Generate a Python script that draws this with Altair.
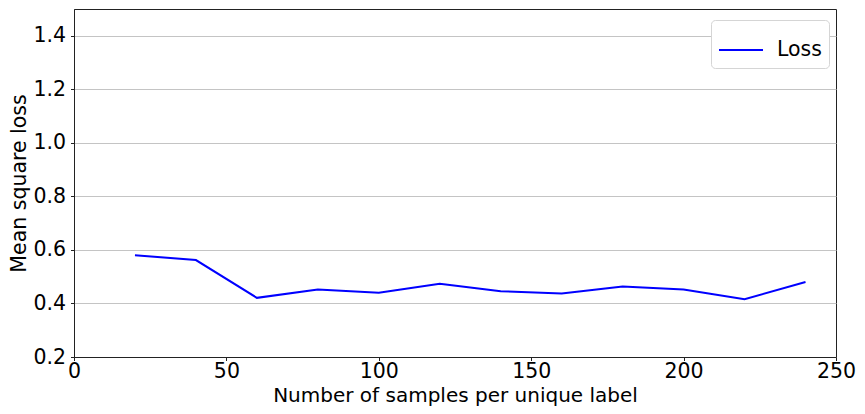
import altair as alt
import pandas as pd

samples = [20, 40, 60, 80, 100, 120, 140, 160, 180, 200, 220, 240]
loss = [0.580, 0.562, 0.421, 0.452, 0.440, 0.474, 0.446, 0.437, 0.463, 0.452, 0.416, 0.480]
series = ["Loss"] * len(samples)
x_ticks = [0, 50, 100, 150, 200, 250]
y_ticks = [0.2, 0.4, 0.6, 0.8, 1.0, 1.2, 1.4]

df = pd.DataFrame({"samples": samples, "loss": loss, "series": series})

H = 348
W = 762

chart = alt.Chart(df).mark_line(strokeWidth=2, clip=True).encode(
    x=alt.X("samples:Q", title="Number of samples per unique label",
            scale=alt.Scale(domain=[0, 250], nice=False),
            axis=alt.Axis(values=x_ticks, grid=False, labelFlush=False,
                          labelPadding=1, titleBaseline="alphabetic",
                          titleFontSize=20, titleX=W / 2, titleY=44)),
    y=alt.Y("loss:Q", title="Mean square loss",
            scale=alt.Scale(domain=[0.2, 1.5], nice=False, zero=False),
            axis=alt.Axis(values=y_ticks, format=".1f", grid=True, labelFlush=False,
                          labelPadding=5, titleBaseline="alphabetic",
                          titleX=-49, titleY=H / 2)),
    color=alt.Color("series:N", scale=alt.Scale(range=["#0000ff"]),
                    legend=alt.Legend(title=None, orient="none", legendX=637, legendY=11,
                                      symbolType="stroke", symbolSize=1936, symbolStrokeWidth=2,
                                      labelFontSize=20.5, labelFont="DejaVu Sans", labelColor="black",
                                      strokeColor="#d5d5d5", fillColor="white", cornerRadius=4,
                                      padding=7, labelOffset=13)),
).properties(
    width=W, height=H,
    autosize=alt.AutoSizeParams(type="none"),
    padding={"left": 66, "top": 1, "right": 21, "bottom": 49},
).configure_view(
    stroke="#222222", strokeWidth=1
).configure_axis(
    labelFont="DejaVu Sans", titleFont="DejaVu Sans",
    labelFontSize=20.5, titleFontSize=20.5, labelColor="black", titleColor="black",
    titleFontWeight="normal", domainColor="#222222", tickColor="#222222",
    tickSize=3.5, gridColor="#c4c4c4", gridWidth=1,
)

chart.save("out.html", embed_options={"renderer": "svg", "actions": False})
